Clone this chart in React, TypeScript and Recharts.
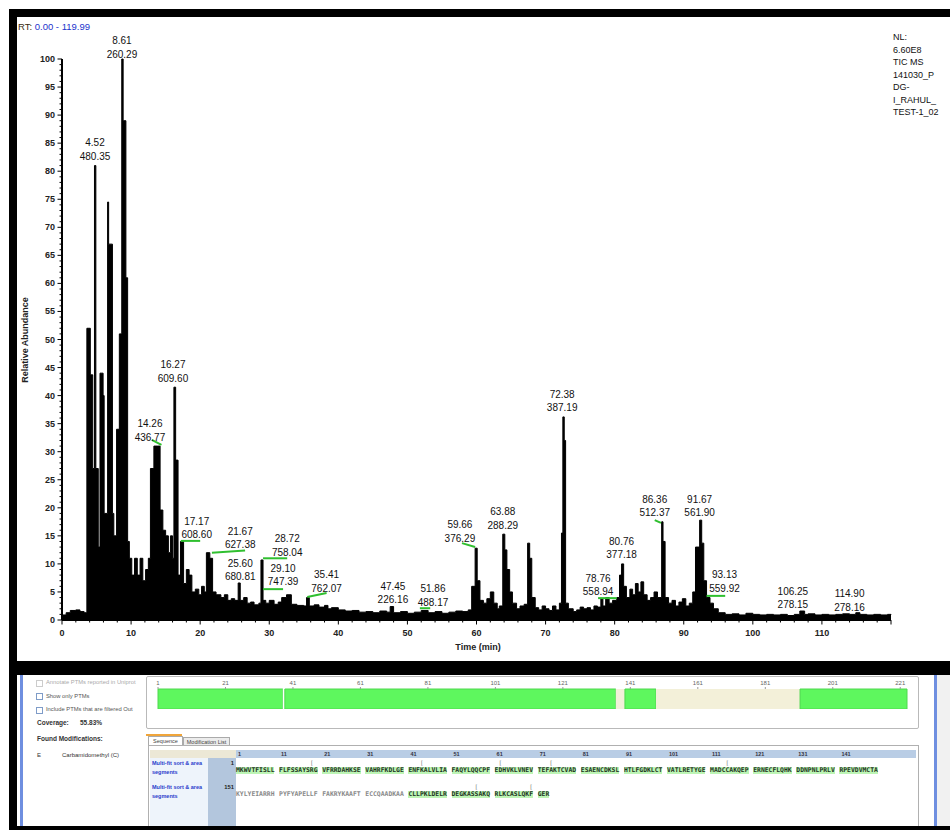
import React from 'react';
import { ComposedChart, Area, Scatter, XAxis, YAxis, ReferenceLine, BarChart, Bar } from 'recharts';

const FONT = '"Liberation Sans", Arial, sans-serif';
const MONO = '"DejaVu Sans Mono", monospace';

// TIC trace: retention time (min) and relative abundance (%)
const rtMin = [
  0, 0.6, 1.2, 2.0, 2.6, 3.2, 3.6, 4.1, 4.45, 4.7, 4.9, 5.25, 5.5, 5.95, 6.1, 6.6, 6.75, 7.3, 7.5, 7.9,
  8.3, 8.65, 8.85, 9.25, 9.5, 9.75, 10.1, 10.5, 10.9, 11.3, 11.7, 12.1, 12.5, 12.8, 13.3, 13.8, 14.2, 14.6, 15.0, 15.4,
  15.7, 16.0, 16.2, 16.45, 16.8, 17.15, 17.6, 18.0, 18.4, 18.8, 19.3, 19.8, 20.2, 20.6, 20.9, 21.4, 21.8, 22.3, 23.0, 23.5,
  24.0, 24.5, 25.0, 25.5, 25.8, 26.3, 26.8, 27.3, 27.8, 28.5, 28.8, 29.1, 29.5, 30.0, 30.7, 31.3, 31.8, 32.5, 33.2, 34.0,
  35.0, 35.4, 35.8, 36.5, 37.2, 38.0, 38.5, 39.0, 40.0, 41.0, 42.0, 43.0, 44.0, 45.0, 46.0, 47.0, 47.5, 48.0, 49.0, 50.0,
  51.0, 52.0, 53.0, 54.0, 55.0, 56.0, 57.0, 58.0, 58.8, 59.3, 59.8, 60.1, 60.5, 61.0, 61.5, 62.0, 62.5, 63.0, 63.3, 63.8,
  64.1, 64.4, 64.8, 65.2, 65.8, 66.3, 66.9, 67.4, 67.7, 68.0, 68.5, 69.0, 69.5, 70.0, 70.5, 71.0, 71.5, 72.0, 72.3, 72.5,
  72.7, 72.9, 73.3, 74.0, 74.5, 75.0, 75.5, 76.0, 76.5, 77.0, 77.5, 78.0, 78.3, 78.7, 79.2, 79.7, 80.3, 80.7, 81.0, 81.3,
  81.7, 82.2, 82.6, 83.0, 83.4, 83.8, 84.2, 84.7, 85.2, 85.7, 86.2, 86.8, 87.0, 87.3, 87.8, 88.3, 88.8, 89.3, 89.8, 90.3,
  90.8, 91.3, 91.7, 92.3, 92.6, 92.9, 93.3, 93.8, 94.3, 95.0, 96.0, 97.0, 98.0, 99.0, 100.0, 101.0, 102.0, 103.0, 104.0, 105.0,
  106.0, 106.8, 107.5, 108.0, 109.0, 110.0, 111.0, 112.0, 113.0, 114.0, 114.9, 115.5, 116.5, 117.5, 118.5, 119.5, 120.0,
];
const relAbund = [
  0.9, 1.3, 1.7, 1.8, 1.5, 1.3, 52, 43.7, 27, 81, 27, 13, 44, 40, 19, 74.5, 67, 19, 15, 34,
  51, 100, 89, 61, 14, 11, 8, 11, 8, 11, 7, 9, 11, 27, 31, 31, 19.6, 16, 15, 12,
  15, 11, 41.5, 28.5, 8, 14, 6.5, 9, 8, 5, 5.5, 4.5, 6, 5, 12, 11, 5, 4.5, 4, 4.5,
  3.5, 3.8, 3.5, 6.6, 3.5, 4, 3, 3.2, 2.7, 3, 10.7, 3.5, 3, 3.5, 2.8, 3.2, 4, 4.5, 2.8, 2.6,
  2.5, 4, 2.5, 2.7, 2.3, 2.6, 2.0, 2.2, 1.8, 1.6, 1.7, 1.4, 1.5, 1.3, 1.6, 1.4, 2.4, 1.3, 1.5, 1.2,
  1.4, 1.7, 1.3, 1.5, 1.2, 1.4, 1.6, 1.5, 1.8, 6, 12.8, 7, 3.5, 3, 3.8, 5, 3, 2, 2.5, 15.3,
  12.5, 9, 5, 3, 2, 2.5, 2.8, 13.7, 11, 4, 2.2, 1.8, 2.5, 2, 1.7, 2.5, 1.8, 3, 15.5, 36.2,
  32, 3, 2, 1.5, 1.8, 2.3, 2, 2.2, 1.8, 2.5, 2.3, 3.8, 2.5, 4, 3, 3.5, 4, 8, 10, 6,
  4, 5.5, 4.5, 6.5, 5, 6.8, 4.5, 3.5, 4, 5, 4, 17.5, 14, 4, 3, 3.5, 2.5, 3.2, 3.8, 2.5,
  3, 5, 13, 17.8, 13.7, 7, 4, 3, 2, 1.3, 1, 1.1, 0.9, 1.2, 1, 0.9, 1, 0.9, 1, 0.8,
  1, 1.6, 1, 1.1, 0.9, 1, 0.9, 1, 1.1, 1, 1.3, 1, 0.9, 1, 0.9, 1, 0.9,
];

// annotated peaks: RT and base peak m/z, with where each label sits
const peakRt = ['4.52', '8.61', '16.27', '14.26', '17.17', '21.67', '25.60', '28.72', '29.10', '35.41', '47.45',
  '51.86', '59.66', '63.88', '72.38', '78.76', '80.76', '86.36', '91.67', '93.13', '106.25', '114.90'];
const peakMz = ['480.35', '260.29', '609.60', '436.77', '608.60', '627.38', '680.81', '758.04', '747.39', '762.07', '226.16',
  '488.17', '376.29', '288.29', '387.19', '558.94', '377.18', '512.37', '561.90', '559.92', '278.15', '278.16'];
const peakLabelAt = [4.78, 8.68, 16.06, 12.73, 19.5, 25.8, 25.8, 32.6, 32.0, 38.3, 47.9,
  53.7, 57.6, 63.8, 72.4, 77.6, 81.0, 85.8, 92.3, 95.9, 105.8, 114.0];
const peakLabelLevel = [81.8, 100, 42.2, 31.7, 14.3, 12.5, 6.8, 11.2, 5.9, 4.8, 2.7,
  2.3, 13.7, 16.0, 36.9, 4.1, 10.7, 18.2, 18.2, 4.8, 1.8, 1.4];

// green integration marks
const markFrom = [13.0, 17.2, 21.7, 29.1, 29.1, 35.5, 51.8, 57.9, 77.6, 85.8, 93.3];
const markTo = [14.4, 20.0, 26.5, 32.6, 32.0, 38.3, 53.3, 59.8, 80.3, 86.7, 96.0];
const markLevelFrom = [32.1, 14.1, 12.0, 11.0, 5.5, 4.1, 2.1, 13.7, 3.9, 17.8, 4.3];
const markLevelTo = [31.2, 14.1, 12.4, 11.0, 5.5, 4.8, 2.1, 13.0, 3.9, 17.3, 4.3];

const nlLines = ['NL:', '6.60E8', 'TIC MS', '141030_P', 'DG-', 'I_RAHUL_', 'TEST-1_02'];

const xTicks = Array.from({ length: 61 }, (_, i) => i * 2);
const yTicks = Array.from({ length: 101 }, (_, i) => i);

// sequence coverage bar
const coverageKinds = ['hit', 'gap', 'hit', 'miss', 'hit', 'miss', 'hit'];
const coverageLengths = [37, 0.6, 98.1, 2.7, 9.2, 42.7, 31.7];
const coverageTicks = [0, 20, 40, 60, 80, 100, 120, 140, 160, 180, 200, 220];
const kindColor: Record<string, string> = { hit: '#5ef75e', gap: '#ffffff', miss: '#f3f0d9' };

// sequence table
const seqHeader = ['1', '11', '21', '31', '41', '51', '61', '71', '81', '91', '101', '111', '121', '131', '141'];
const seqRow1 = ['MKWVTFISLL', 'FLFSSAYSRG', 'VFRRDAHKSE', 'VAHRFKDLGE', 'ENFKALVLIA', 'FAQYLQQCPF', 'EDHVKLVNEV',
  'TEFAKTCVAD', 'ESAENCDKSL', 'HTLFGDKLCT', 'VATLRETYGE', 'MADCCAKQEP', 'ERNECFLQHK', 'DDNPNLPRLV', 'RPEVDVMCTA'];
const seqRow2 = ['KYLYEIARRH', 'PYFYAPELLF', 'FAKRYKAAFT', 'ECCQAADKAA', 'CLLPKLDELR', 'DEGKASSAKQ', 'RLKCASLQKF', 'GER'];
const seqRow2Covered = [false, false, false, false, true, true, true, true];
const modRow1 = [18, 43, 61, 73, 114];
const modRow2 = [56, 69];

function YTick(props: any) {
  const { x, y, payload } = props;
  const v = payload.value;
  const major = v % 5 === 0;
  return (
    <g>
      <line x1={x} x2={x - (major ? 4.5 : 2.5)} y1={y} y2={y} stroke="#000" strokeWidth={1} />
      {major && (
        <text x={x - 7} y={y + 3} textAnchor="end" fontSize={9} fontWeight="bold" fill="#222" fontFamily={FONT}>
          {v}
        </text>
      )}
    </g>
  );
}

function XTick(props: any) {
  const { x, y, payload } = props;
  const v = payload.value;
  const major = v % 10 === 0;
  return (
    <g>
      <line x1={x} x2={x} y1={y} y2={y + (major ? 4.5 : 2.5)} stroke="#000" strokeWidth={1} />
      {major && v < 120 && (
        <text x={x} y={y + 16} textAnchor="middle" fontSize={9} fontWeight="bold" fill="#222" fontFamily={FONT}>
          {v}
        </text>
      )}
    </g>
  );
}

function PeakLabel(props: any) {
  const { cx, cy, payload } = props;
  return (
    <g fontFamily={FONT} fontSize={10} fill="#111" textAnchor="middle">
      <text x={cx} y={cy - 15}>{payload.rt}</text>
      <text x={cx} y={cy - 1.5}>{payload.mz}</text>
    </g>
  );
}

function SeqGroups({ groups, top, covered }: { groups: string[]; top: number; covered: boolean[] }) {
  return (
    <>
      {groups.map((g, i) => (
        <div key={i} style={{
          position: 'absolute', left: 219 + i * 43.1, top, height: 7, lineHeight: '7px', fontFamily: MONO,
          fontSize: 6.4, fontWeight: 'bold', color: covered[i] ? '#223322' : '#888',
          background: covered[i] ? '#bdf5b5' : 'transparent', whiteSpace: 'pre',
        }}>{g}</div>
      ))}
    </>
  );
}

function ModMarks({ residues, top }: { residues: number[]; top: number }) {
  return (
    <>
      {residues.map((r, i) => (
        <div key={i} style={{
          position: 'absolute', left: 219 + Math.floor(r / 10) * 43.1 + (r % 10) * 3.85, top,
          fontFamily: MONO, fontSize: 6, lineHeight: '6px', color: '#777',
        }}>[</div>
      ))}
    </>
  );
}

export default function App() {
  const trace = rtMin.map((t, i) => ({ t, v: relAbund[i] }));
  const labels = peakRt.map((rt, i) => ({ t: peakLabelAt[i], v: peakLabelLevel[i], rt, mz: peakMz[i] }));
  const coverageRow = [coverageLengths.reduce((o: any, l, i) => { o['s' + i] = l; return o; }, { name: 'seq' })];
  const cb = (top: number, faded: boolean) => (
    <div style={{ position: 'absolute', left: 19, top, width: 5, height: 5, border: `1px solid ${faded ? '#ccc' : '#7f9cc8'}`, background: '#fff' }} />
  );
  const small = (left: number, top: number, text: string, extra: any = {}) => (
    <div style={{ position: 'absolute', left, top, fontSize: 5.8, lineHeight: '8px', color: '#555', whiteSpace: 'nowrap', ...extra }}>{text}</div>
  );

  return (
    <div style={{ position: 'absolute', left: 9, top: 9, width: 941, height: 821, background: '#000', overflow: 'hidden', fontFamily: FONT }}>
      {/* chromatogram */}
      <div style={{ position: 'absolute', left: 8, top: 8, width: 933, height: 644, background: '#fff' }}>
        <ComposedChart width={933} height={644} data={trace} margin={{ top: 42, right: 59, bottom: 0, left: 0 }}>
          <XAxis dataKey="t" type="number" domain={[0, 120]} ticks={xTicks} interval={0} tick={(p: any) => <XTick {...p} />}
            tickLine={false} tickSize={0} tickMargin={0} axisLine={{ stroke: '#000', strokeWidth: 2 }} height={41} />
          <YAxis type="number" domain={[0, 100]} ticks={yTicks} interval={0} tick={(p: any) => <YTick {...p} />}
            tickLine={false} tickSize={0} tickMargin={0} axisLine={{ stroke: '#000', strokeWidth: 2 }} width={45} />
          <Area type="stepAfter" dataKey="v" stroke="#000" strokeWidth={1} fill="#000" fillOpacity={1}
            dot={false} activeDot={false} isAnimationActive={false} />
          {markFrom.map((a, i) => (
            <ReferenceLine key={i} segment={[{ x: a, y: markLevelFrom[i] }, { x: markTo[i], y: markLevelTo[i] }]}
              stroke="#2fbf2f" strokeWidth={2} />
          ))}
          <Scatter data={labels} dataKey="v" shape={(p: any) => <PeakLabel {...p} />} isAnimationActive={false} />
        </ComposedChart>

        <div style={{ position: 'absolute', left: 1, top: 4, fontSize: 9.5, lineHeight: '12px', whiteSpace: 'nowrap' }}>
          <span style={{ color: '#3a2a10' }}>RT: </span><span style={{ color: '#2233cc' }}>0.00 - 119.99</span>
        </div>
        <div style={{ position: 'absolute', left: 876, top: 14, fontSize: 9, lineHeight: '12.5px', color: '#111', whiteSpace: 'nowrap' }}>
          {nlLines.map((l, i) => <div key={i}>{l}</div>)}
        </div>
        <div style={{
          position: 'absolute', left: 8 - 60, top: 323 - 6, width: 120, textAlign: 'center', fontSize: 9,
          fontWeight: 'bold', lineHeight: '12px', color: '#222', transform: 'rotate(-90deg)', whiteSpace: 'nowrap',
        }}>Relative Abundance</div>
        <div style={{ position: 'absolute', left: 461 - 40, top: 624, width: 80, textAlign: 'center', fontSize: 9, fontWeight: 'bold', lineHeight: '12px', color: '#222' }}>
          Time (min)
        </div>
      </div>

      {/* protein coverage panel */}
      <div style={{ position: 'absolute', left: 8, top: 666, width: 933, height: 151, background: '#fff', overflow: 'hidden' }}>
        <div style={{ position: 'absolute', left: 3, top: 0, width: 3, height: 151, background: '#6f8fe0' }} />
        <div style={{ position: 'absolute', left: 917, top: 0, width: 3, height: 151, background: '#6f8fe0' }} />
        <div style={{ position: 'absolute', left: 920, top: 0, width: 13, height: 151, background: '#f1f1f1' }} />

        {cb(5, true)}
        {small(29, 3, 'Annotate PTMs reported in Uniprot', { color: '#aaa' })}
        {cb(18, false)}
        {small(29, 17, 'Show only PTMs')}
        {cb(32, false)}
        {small(29, 30, 'Include PTMs that are filtered Out')}
        {small(20, 44, 'Coverage:', { fontWeight: 'bold', fontSize: 6.5, color: '#333' })}
        {small(63, 44, '55.83%', { fontWeight: 'bold', fontSize: 6.5, color: '#333' })}
        {small(20, 60, 'Found Modifications:', { fontWeight: 'bold', fontSize: 6.5, color: '#333' })}
        {small(20, 76, 'E', { fontSize: 6, color: '#333' })}
        {small(45, 76, 'Carbamidomethyl (C)', { fontSize: 6, color: '#333' })}

        <div style={{ position: 'absolute', left: 129, top: 1, width: 771, height: 51, border: '1px solid #b9b9b9', borderRadius: 2, background: '#fff' }} />
        <div style={{ position: 'absolute', left: 137, top: 2 }}>
          <BarChart width={757} height={32} data={coverageRow} layout="vertical" margin={{ top: 0, right: 4, bottom: 0, left: 4 }} barCategoryGap={0}>
            <XAxis type="number" orientation="top" domain={[0, 222]} ticks={coverageTicks} interval={0}
              tickFormatter={(v: number) => String(v + 1)} height={12} axisLine={false} tickSize={2}
              tickLine={{ stroke: '#999' }} tick={{ fontSize: 6, fill: '#666', fontFamily: FONT }} />
            <YAxis type="category" dataKey="name" hide />
            {coverageLengths.map((_, i) => (
              <Bar key={i} dataKey={'s' + i} stackId="c" fill={kindColor[coverageKinds[i]]}
                stroke={coverageKinds[i] === 'hit' ? '#4fd84f' : 'none'} isAnimationActive={false} />
            ))}
          </BarChart>
        </div>

        <div style={{ position: 'absolute', left: 129, top: 59, width: 36, height: 2, background: '#f0a53a' }} />
        <div style={{ position: 'absolute', left: 131, top: 61, width: 33, height: 9, border: '1px solid #aaa', borderBottom: 'none', background: '#fff', fontSize: 5.5, lineHeight: '9px', textAlign: 'center', color: '#444' }}>Sequence</div>
        <div style={{ position: 'absolute', left: 166, top: 62, width: 45, height: 8, border: '1px solid #aaa', borderBottom: 'none', background: '#ececec', fontSize: 5.5, lineHeight: '8px', textAlign: 'center', color: '#444' }}>Modification List</div>
        <div style={{ position: 'absolute', left: 131, top: 70, width: 769, height: 90, border: '1px solid #b0b0b0', background: '#fff' }} />
        <div style={{ position: 'absolute', left: 133, top: 75, width: 86, height: 8, background: '#ece8d6' }} />
        <div style={{ position: 'absolute', left: 219, top: 75, width: 680, height: 8, background: '#b9cde5' }} />
        {seqHeader.map((h, i) => (
          <div key={i} style={{ position: 'absolute', left: 221 + i * 43.1, top: 75, fontSize: 5.5, lineHeight: '8px', fontWeight: 'bold', color: '#334' }}>{h}</div>
        ))}
        <div style={{ position: 'absolute', left: 133, top: 83, width: 58, height: 70, background: '#eef4fb' }} />
        <div style={{ position: 'absolute', left: 191, top: 83, width: 28, height: 70, background: '#b3c6dd' }} />

        {small(135, 84, 'Multi-fit sort & area', { color: '#2a3ccc', fontWeight: 'bold', fontSize: 5.5 })}
        {small(135, 93, 'segments', { color: '#2a3ccc', fontWeight: 'bold', fontSize: 5.5 })}
        {small(191, 84, '1', { width: 26, textAlign: 'right', fontWeight: 'bold', color: '#222' })}
        <ModMarks residues={modRow1} top={85} />
        <SeqGroups groups={seqRow1} top={92} covered={seqRow1.map(() => true)} />

        {small(135, 108, 'Multi-fit sort & area', { color: '#2a3ccc', fontWeight: 'bold', fontSize: 5.5 })}
        {small(135, 117, 'segments', { color: '#2a3ccc', fontWeight: 'bold', fontSize: 5.5 })}
        {small(191, 108, '151', { width: 26, textAlign: 'right', fontWeight: 'bold', color: '#222' })}
        <ModMarks residues={modRow2} top={109} />
        <SeqGroups groups={seqRow2} top={116} covered={seqRow2Covered} />
      </div>
    </div>
  );
}
